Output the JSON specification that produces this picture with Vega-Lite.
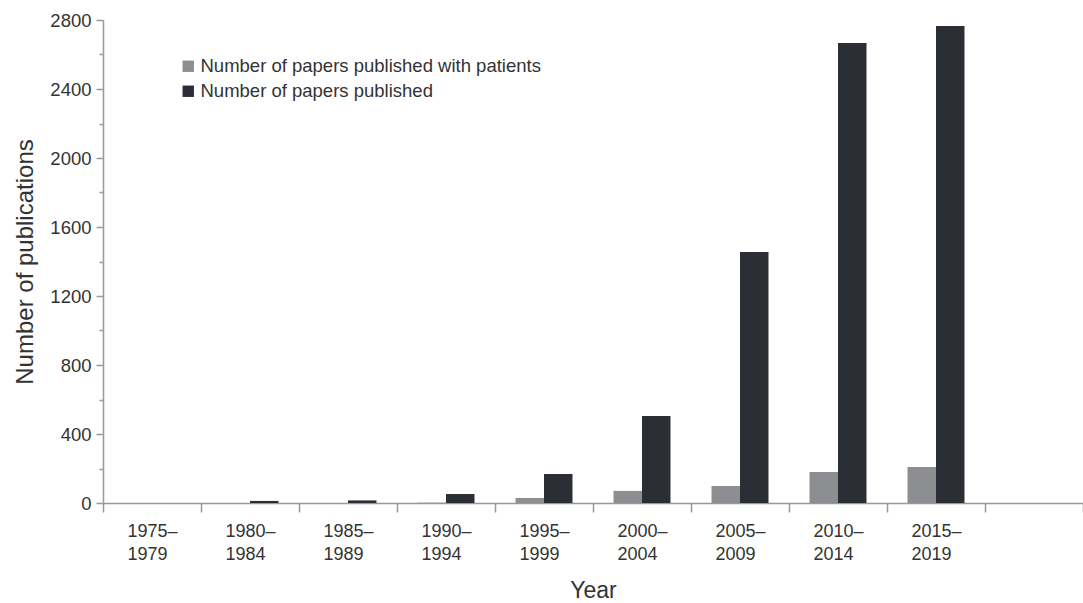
{
  "$schema": "https://vega.github.io/schema/vega-lite/v6.json",
  "autosize": {"type": "none"},
  "width": 980,
  "height": 483,
  "padding": {"left": 103, "top": 20, "right": 0, "bottom": 100},
  "background": "white",
  "config": {
    "font": "Liberation Sans",
    "view": {"stroke": null}
  },
  "data": {
    "values": [
      {"period": "1975–1979", "series": "Number of papers published with patients", "count": 0},
      {"period": "1975–1979", "series": "Number of papers published", "count": 0},
      {"period": "1980–1984", "series": "Number of papers published with patients", "count": 0},
      {"period": "1980–1984", "series": "Number of papers published", "count": 12},
      {"period": "1985–1989", "series": "Number of papers published with patients", "count": 0},
      {"period": "1985–1989", "series": "Number of papers published", "count": 15},
      {"period": "1990–1994", "series": "Number of papers published with patients", "count": 2},
      {"period": "1990–1994", "series": "Number of papers published", "count": 52},
      {"period": "1995–1999", "series": "Number of papers published with patients", "count": 29},
      {"period": "1995–1999", "series": "Number of papers published", "count": 168},
      {"period": "2000–2004", "series": "Number of papers published with patients", "count": 70},
      {"period": "2000–2004", "series": "Number of papers published", "count": 504},
      {"period": "2005–2009", "series": "Number of papers published with patients", "count": 99},
      {"period": "2005–2009", "series": "Number of papers published", "count": 1455},
      {"period": "2010–2014", "series": "Number of papers published with patients", "count": 180},
      {"period": "2010–2014", "series": "Number of papers published", "count": 2667},
      {"period": "2015–2019", "series": "Number of papers published with patients", "count": 209},
      {"period": "2015–2019", "series": "Number of papers published", "count": 2765}
    ]
  },
  "mark": {"type": "bar"},
  "encoding": {
    "x": {
      "field": "period",
      "type": "nominal",
      "scale": {
        "domain": ["1975–1979", "1980–1984", "1985–1989", "1990–1994", "1995–1999", "2000–2004", "2005–2009", "2010–2014", "2015–2019", ""],
        "paddingInner": 0,
        "paddingOuter": 0
      },
      "axis": {
        "title": "Year",
        "titleFontSize": 23,
        "titleFontWeight": "normal",
        "titleColor": "#333333",
        "titlePadding": 16,
        "labelAngle": 0,
        "labelFontSize": 18,
        "labelColor": "#333333",
        "labelAlign": "left",
        "labelOffset": -25,
        "labelPadding": 10,
        "labelLineHeight": 23,
        "labelExpr": "[slice(datum.label,0,5), slice(datum.label,5)]",
        "tickBand": "extent",
        "tickSize": 9,
        "tickColor": "#999999",
        "tickWidth": 1.5,
        "domainColor": "#999999",
        "domainWidth": 1.5
      }
    },
    "xOffset": {
      "field": "series",
      "type": "nominal",
      "scale": {
        "domain": ["Number of papers published with patients", "Number of papers published"],
        "paddingInner": 0,
        "paddingOuter": 0.72
      }
    },
    "y": {
      "field": "count",
      "type": "quantitative",
      "scale": {"domain": [0, 2800], "nice": false},
      "axis": {
        "title": "Number of publications",
        "titleFontSize": 24,
        "titleFontWeight": "normal",
        "titleColor": "#333333",
        "titlePadding": 12,
        "values": [0, 200, 400, 600, 800, 1000, 1200, 1400, 1600, 1800, 2000, 2200, 2400, 2600, 2800],
        "format": "d",
        "labelExpr": "datum.value % 400 === 0 ? datum.label : ''",
        "labelFontSize": 18.5,
        "labelColor": "#333333",
        "labelPadding": 5,
        "grid": false,
        "tickSize": {"condition": {"test": "datum.value % 400 === 0", "value": 7}, "value": 4},
        "tickColor": "#999999",
        "tickWidth": 1.5,
        "domainColor": "#999999",
        "domainWidth": 1.5
      }
    },
    "color": {
      "field": "series",
      "type": "nominal",
      "scale": {
        "domain": ["Number of papers published with patients", "Number of papers published"],
        "range": ["#8d8e91", "#2c2e35"]
      },
      "legend": {
        "title": null,
        "orient": "none",
        "legendX": 76,
        "legendY": 37,
        "symbolType": "square",
        "symbolSize": 130,
        "symbolStrokeWidth": 0,
        "labelFontSize": 18.5,
        "labelLimit": 0,
        "labelColor": "#333333",
        "labelOffset": 3,
        "rowPadding": 6
      }
    }
  }
}
